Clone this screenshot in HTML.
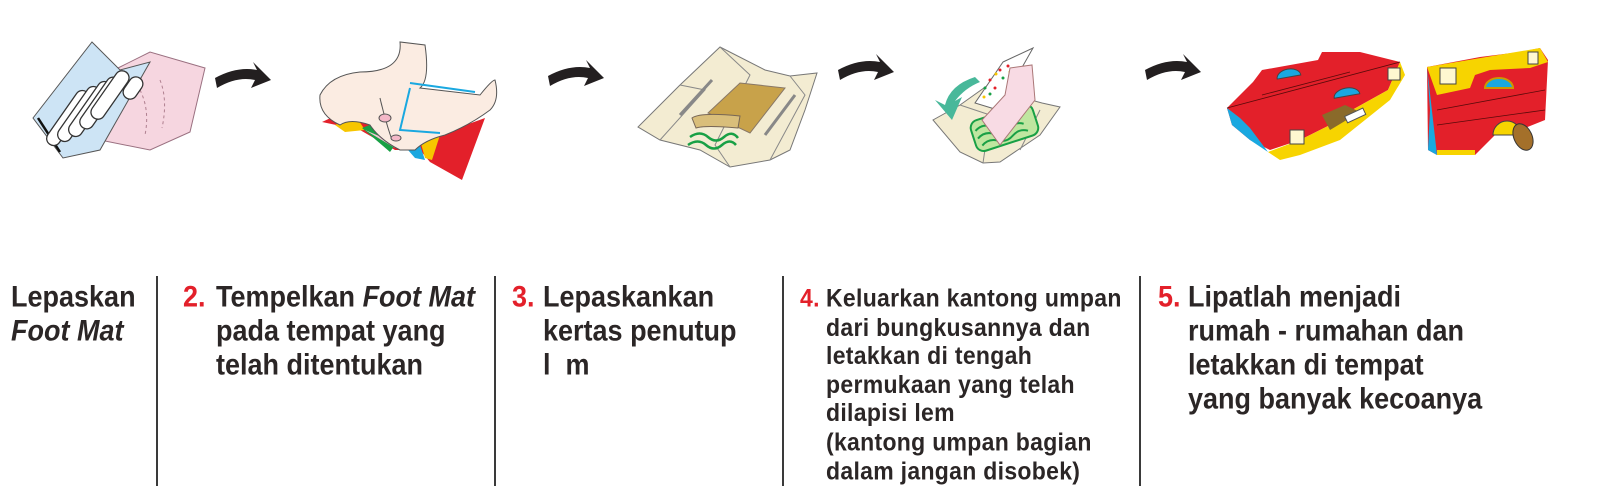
<!DOCTYPE html>
<html><head><meta charset="utf-8"><style>
html,body{margin:0;padding:0;background:#fff;}
body{width:1600px;height:497px;position:relative;overflow:hidden;font-family:"Liberation Sans",Arial,sans-serif;font-weight:bold;color:#2b2626;}
.t{position:absolute;white-space:nowrap;font-size:27px;line-height:31px;letter-spacing:0px;transform-origin:0 0;transform:scaleY(1.1);}
.s{font-size:23px;line-height:26.6px;letter-spacing:0.3px;transform:scaleY(1.08);}
.v{position:absolute;top:276px;width:2px;height:210px;background:#3a3a3a;}
</style></head><body>
<svg width="1600" height="200" style="position:absolute;left:0;top:0" xmlns="http://www.w3.org/2000/svg">
<defs>
<g id="arr"><path d="M0,12 Q22,0 42,4 L38,-4 L56,14 L36,22 L40,14 Q22,10 2,22 Z" fill="#231f20"/></g>
</defs>
<polygon points="118,68 150,52 205,68 190,132 150,150 100,140" fill="#f6d6e0" stroke="#9a7080" stroke-width="1"/>
<path d="M140,90 Q150,110 145,135 M160,80 Q168,100 162,128" stroke="#b08090" stroke-dasharray="3,3" fill="none"/>
<polygon points="33,118 92,42 120,70 150,62 100,150 63,158" fill="#cde4f5" stroke="#555" stroke-width="1"/>
<line x1="38" y1="118" x2="60" y2="152" stroke="#111" stroke-width="2.5"/>
<g fill="#fff" stroke="#333" stroke-width="1.3">
<rect x="-32" y="-7" width="64" height="14" rx="7" transform="translate(68,118) rotate(-55)"/>
<rect x="-32" y="-7" width="64" height="14" rx="7" transform="translate(79,114) rotate(-55)"/>
<rect x="-32" y="-7" width="64" height="14" rx="7" transform="translate(90,109) rotate(-55)"/>
<rect x="-30" y="-7" width="60" height="14" rx="7" transform="translate(100,103) rotate(-55)"/>
<rect x="-28" y="-7" width="56" height="14" rx="7" transform="translate(110,95) rotate(-55)"/>
<rect x="-12" y="-7" width="24" height="14" rx="7" transform="translate(133,88) rotate(-55)"/>
</g>
<use href="#arr" transform="translate(215,66)"/>
<use href="#arr" transform="translate(548,64)"/>
<use href="#arr" transform="translate(838,58)"/>
<use href="#arr" transform="translate(1145,58)"/>
<polygon points="322,122 352,108 372,128 390,142 412,148 430,138 485,118 462,180 430,162 420,150 395,150 360,130" fill="#e3202a"/>
<polygon points="335,125 355,115 365,130 345,132" fill="#f7c600"/>
<polygon points="420,140 440,135 432,160 425,158" fill="#f7c600"/>
<polygon points="408,150 420,145 425,160 415,158" fill="#1aa8e0"/>
<polygon points="362,128 372,124 395,145 390,152" fill="#18a045"/>
<polygon points="365,130 395,148 400,145" fill="#f4c6d4"/>
<path d="M320,95 Q330,75 360,72 Q403,72 400,42 L425,45 Q430,80 420,88 L480,95 Q492,80 495,80 Q500,100 490,110 Q470,125 445,135 Q425,140 415,150 L400,150 Q380,140 370,125 Q350,118 340,125 Q318,115 320,95 Z" fill="#fbece2" stroke="#555" stroke-width="1"/>
<path d="M410,83 L475,92 M410,88 L400,130 L440,133" stroke="#1aa8e0" stroke-width="2" fill="none"/>
<path d="M380,98 Q385,120 392,140" stroke="#555" fill="none"/>
<ellipse cx="385" cy="118" rx="6" ry="4" fill="#f4b8c8" stroke="#555"/>
<ellipse cx="396" cy="138" rx="5" ry="3" fill="#f4b8c8" stroke="#555"/>
<polygon points="720,47 765,70 790,76 817,73 805,110 790,150 770,160 730,167 700,150 660,140 638,127 680,85" fill="#f3ecd2" stroke="#777" stroke-width="1"/>
<path d="M720,47 L750,75 L715,145 L730,167 M790,76 L805,95 L770,160 M680,85 L705,90 L660,140" stroke="#888" fill="none"/>
<line x1="712" y1="80" x2="680" y2="115" stroke="#888" stroke-width="3"/>
<line x1="795" y1="95" x2="765" y2="135" stroke="#888" stroke-width="3"/>
<polygon points="708,113 740,83 785,88 750,133" fill="#c8a24a" stroke="#876" stroke-width="1"/>
<path d="M692,118 Q700,112 740,116 L738,128 Q705,125 696,128 Z" fill="#d9be7a" stroke="#765"/>
<path d="M690,137 Q700,130 708,137 Q716,144 724,137 Q732,130 738,138 M688,145 Q698,138 706,145 Q714,152 722,145 Q730,138 736,145" stroke="#18a045" stroke-width="2.5" fill="none"/>
<polygon points="1005,73 1020,97 1042,103 1060,107 1040,135 1000,162 983,163 960,152 933,120 960,105" fill="#f3ecd2" stroke="#777"/>
<path d="M960,105 L990,115 L983,163 M1005,73 L1018,100 L1010,130 M1040,110 L1020,150" stroke="#888" fill="none"/>
<rect x="972" y="112" width="65" height="32" rx="8" fill="#bfe6a0" stroke="#18a045" stroke-width="2" transform="rotate(-18 1004 128)"/>
<path d="M976,122 q8,-5 16,0 t16,0 t16,0 M976,130 q8,-5 16,0 t16,0 t16,0 M978,138 q8,-5 16,0 t16,0 t16,0" stroke="#18a045" stroke-width="2" fill="none" transform="rotate(-18 1004 128)"/>
<path d="M975,77 Q950,85 945,105 L935,100 L952,120 L962,97 L955,101 Q965,88 980,82 Z" fill="#48b89a"/>
<polygon points="1003,62 1033,48 998,110 975,103" fill="#fff" stroke="#666"/>
<g fill="#e3202a"><circle cx="990" cy="80" r="1.5"/><circle cx="1000" cy="70" r="1.5"/><circle cx="995" cy="88" r="1.5"/><circle cx="1008" cy="66" r="1.5"/></g>
<g fill="#18a045"><circle cx="985" cy="88" r="1.5"/><circle cx="1003" cy="78" r="1.5"/><circle cx="990" cy="94" r="1.5"/></g>
<g fill="#f7c600"><circle cx="996" cy="74" r="1.5"/><circle cx="984" cy="97" r="1.5"/><circle cx="1010" cy="72" r="1.5"/></g>
<polygon points="1010,68 1032,65 1035,100 1000,145 982,120 1005,95" fill="#f8dbe4" stroke="#a77"/>
<polygon points="1227,108 1253,82 1262,70 1318,60 1322,52 1360,52 1400,62 1388,90 1352,110 1330,125 1300,140 1270,150 1250,140 1232,125" fill="#e3202a"/>
<polygon points="1227,108 1232,125 1250,140 1268,152 1250,128 1240,118" fill="#1aa8e0"/>
<polygon points="1268,152 1300,140 1320,130 1336,122 1352,110 1388,90 1400,62 1405,75 1390,100 1340,140 1300,155 1280,160" fill="#f7d400"/>
<polygon points="1322,115 1345,105 1360,112 1330,130" fill="#8a6a2a"/>
<rect x="1345" y="112" width="20" height="7" fill="#fff" stroke="#555" transform="rotate(-25 1355 115)"/>
<path d="M1277,77 a12,8 0 0,1 24,0 z" fill="#1aa8e0" stroke="#444" transform="rotate(-10 1289 77)"/>
<path d="M1334,96 a13,8 0 0,1 26,0 z" fill="#1aa8e0" stroke="#444" transform="rotate(-10 1347 96)"/>
<rect x="1290" y="130" width="14" height="14" fill="#fff8d0" stroke="#444"/>
<rect x="1388" y="68" width="12" height="12" fill="#fff8d0" stroke="#444"/>
<path d="M1227,108 L1400,62 M1262,95 L1350,72" stroke="#5a0a0a" stroke-width="0.8" fill="none"/>
<polygon points="1427,67 1480,57 1520,52 1540,48 1548,60 1545,120 1520,130 1495,135 1475,155 1437,155 1428,150" fill="#e3202a"/>
<polygon points="1427,67 1437,155 1428,150 1430,110" fill="#1aa8e0"/>
<polygon points="1427,67 1540,48 1548,62 1530,68 1490,70 1475,75 1470,88 1437,95" fill="#f7d400"/>
<polygon points="1437,150 1475,150 1475,155 1437,155" fill="#f7d400"/>
<rect x="1440" y="68" width="16" height="16" fill="#fff8d0" stroke="#444"/>
<rect x="1528" y="52" width="10" height="12" fill="#fff8d0" stroke="#444"/>
<path d="M1485,88 a14,10 0 0,1 28,0 z" fill="#1aa8e0" stroke="#c90" stroke-width="2"/>
<path d="M1493,135 a14,14 0 0,1 28,0 z" fill="#f7d400" stroke="#444"/>
<ellipse cx="1523" cy="137" rx="9" ry="14" fill="#a4702a" stroke="#333" transform="rotate(-25 1523 137)"/>
<path d="M1437,110 L1545,90 M1437,125 L1545,110" stroke="#5a0a0a" stroke-width="0.8" fill="none"/>
</svg>

<div class="v" style="left:156px"></div>
<div class="v" style="left:494px"></div>
<div class="v" style="left:782px"></div>
<div class="v" style="left:1139px"></div>

<div class="t" style="left:11px;top:280px">Lepaskan<br><i>Foot Mat</i></div>

<div class="t" style="left:183px;top:280px"><span style="color:#e3202a">2.</span></div>
<div class="t" style="left:216px;top:280px">Tempelkan <i>Foot Mat</i><br>pada tempat yang<br>telah ditentukan</div>

<div class="t" style="left:512px;top:280px"><span style="color:#e3202a">3.</span></div>
<div class="t" style="left:543px;top:280px">Lepaskankan<br>kertas penutup<br>l&nbsp;&nbsp;m</div>

<div class="t s" style="left:800px;top:284px"><span style="color:#e3202a">4.</span></div>
<div class="t s" style="left:826px;top:284px">Keluarkan kantong umpan<br>dari bungkusannya dan<br>letakkan di tengah<br>permukaan yang telah<br>dilapisi lem<br>(kantong umpan bagian<br>dalam jangan disobek)</div>

<div class="t" style="left:1158px;top:280px"><span style="color:#e3202a">5.</span></div>
<div class="t" style="left:1188px;top:280px">Lipatlah menjadi<br>rumah - rumahan dan<br>letakkan di tempat<br>yang banyak kecoanya</div>
</body></html>
